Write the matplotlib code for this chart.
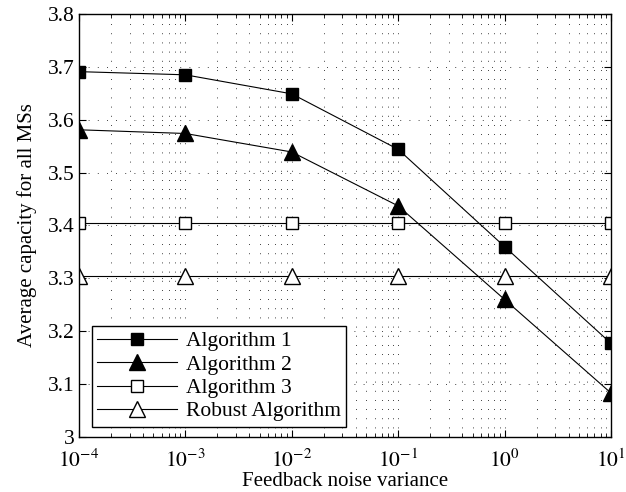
import numpy as np
import matplotlib
matplotlib.use('Agg')
from matplotlib import pyplot as plt

plt.rcParams['font.family'] = ['Liberation Serif', 'DejaVu Serif']
plt.rcParams['mathtext.fontset'] = 'stix'

# data
noise_var = [1e-4, 1e-3, 1e-2, 1e-1, 1e0, 1e1]
alg1 = [3.691, 3.685, 3.649, 3.544, 3.360, 3.177]
alg2 = [3.581, 3.574, 3.539, 3.437, 3.260, 3.083]
alg3 = [3.404, 3.404, 3.404, 3.404, 3.404, 3.404]
robust = [3.304, 3.304, 3.304, 3.304, 3.304, 3.304]
labels = ['Algorithm 1', 'Algorithm 2', 'Algorithm 3', 'Robust Algorithm']

fig = plt.figure(figsize=(6.26, 4.92), dpi=100)
ax = fig.add_axes([0.126, 0.112, 0.85, 0.8595])

ax.plot(noise_var, alg1, 'k-', marker='s', ms=8.5, mfc='k', lw=0.8, label=labels[0])
ax.plot(noise_var, alg2, 'k-', marker='^', ms=11.5, mfc='k', lw=0.8, label=labels[1])
ax.plot(noise_var, alg3, 'k-', marker='s', ms=8.5, mfc='w', lw=0.8, label=labels[2])
ax.plot(noise_var, robust, 'k-', marker='^', ms=11.5, mfc='w', lw=0.8, label=labels[3])

ax.set_xscale('log')
ax.set_xlim(1e-4, 1e1)
ax.set_ylim(3.0, 3.8)
ax.set_xticks([1e-4, 1e-3, 1e-2, 1e-1, 1e0, 1e1])
ax.set_xticklabels([r'$10^{-4}$', r'$10^{-3}$', r'$10^{-2}$', r'$10^{-1}$', r'$10^{0}$', r'$10^{1}$'])
ax.set_yticks(np.arange(3.0, 3.81, 0.1))
ax.set_yticklabels(['3', '3.1', '3.2', '3.3', '3.4', '3.5', '3.6', '3.7', '3.8'])

# matlab-ish dotted grid on major and minor ticks
ax.grid(True, which='major', color='k', ls=(0, (1, 10)), lw=0.6)
ax.grid(True, which='minor', axis='x', color='k', ls=(0, (1, 10)), lw=0.6)
ax.tick_params(which='both', direction='in', top=True, right=True, labelsize=15.5)
ax.tick_params(axis='x', which='major', pad=9)
ax.tick_params(axis='y', which='major', pad=3)
ax.tick_params(which='major', length=5)
ax.tick_params(which='minor', length=3)
for s in ax.spines.values():
    s.set_linewidth(1.0)

ax.set_xlabel('Feedback noise variance', fontsize=15, labelpad=0)
ax.set_ylabel('Average capacity for all MSs', fontsize=15, labelpad=8)

leg = ax.legend(loc='lower left', bbox_to_anchor=(0.024, 0.024), fontsize=15.5,
                fancybox=False, edgecolor='k', framealpha=1, handlelength=3.7,
                borderpad=0.25, labelspacing=0.15, handletextpad=0.42, borderaxespad=0)
leg.get_frame().set_linewidth(1.0)

fig.savefig('out.png', dpi=100)
